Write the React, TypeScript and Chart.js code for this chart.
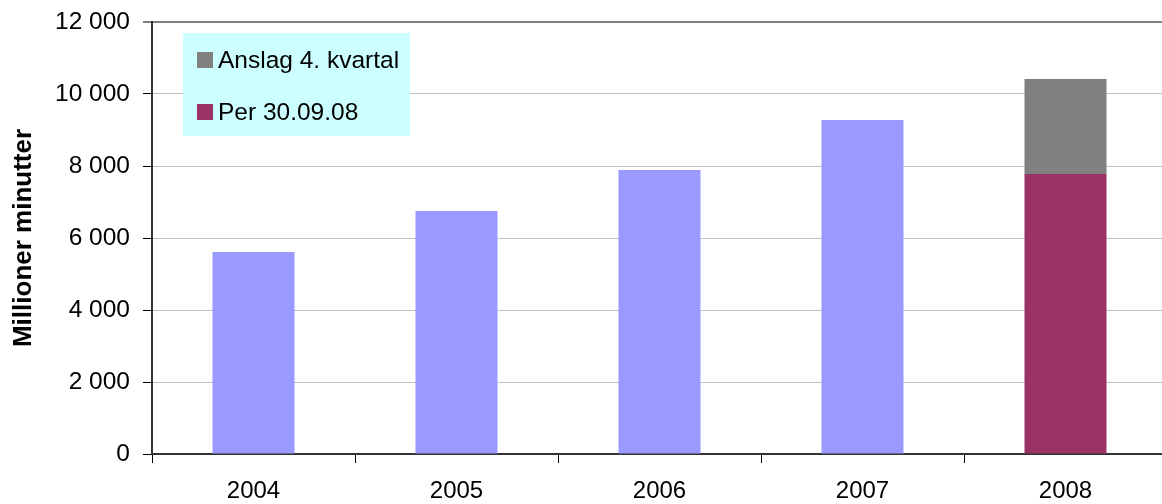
import React, { useEffect, useRef } from "react";
import { Chart, registerables } from "chart.js";

Chart.register(...registerables);

const categories = ["2004", "2005", "2006", "2007", "2008"];
const historyValues = [5610, 6750, 7890, 9280, null];
const perValues = [null, null, null, null, 7780];
const estimateValues = [null, null, null, null, 2640];
const yTicks = [0, 2000, 4000, 6000, 8000, 10000, 12000];
const yTitle = "Millioner minutter";
const legendLabels = ["Anslag 4. kvartal", "Per 30.09.08"];

const FONT = "'Liberation Sans', Arial, Helvetica, sans-serif";

const fmt = (v: number) => String(v).replace(/\B(?=(\d{3})+(?!\d))/g, " ");

const legendPlugin = {
  id: "boxLegend",
  afterDraw(chart: any) {
    const { ctx, chartArea } = chart;
    const x0 = chartArea.left + 31;
    const y0 = chartArea.top + 11;
    ctx.save();
    ctx.fillStyle = "#CCFFFF";
    ctx.fillRect(x0, y0, 227, 103);
    const items = [
      { label: legendLabels[0], color: chart.data.datasets[2].backgroundColor },
      { label: legendLabels[1], color: chart.data.datasets[1].backgroundColor },
    ];
    ctx.font = `24.5px ${FONT}`;
    ctx.textBaseline = "alphabetic";
    items.forEach((it, i) => {
      const sy = y0 + 19 + i * 52;
      ctx.fillStyle = it.color;
      ctx.fillRect(x0 + 14, sy, 16, 16);
      ctx.fillStyle = "#000";
      ctx.fillText(it.label, x0 + 35, sy + 16);
    });
    ctx.restore();
  },
};

export default function App() {
  const ref = useRef<HTMLCanvasElement>(null);
  useEffect(() => {
    if (!ref.current) return;
    const chart = new Chart(ref.current, {
      type: "bar",
      data: {
        labels: categories,
        datasets: [
          { label: "Historikk", data: historyValues as any, backgroundColor: "#9999FF" },
          { label: legendLabels[1], data: perValues as any, backgroundColor: "#993366" },
          { label: legendLabels[0], data: estimateValues as any, backgroundColor: "#808080" },
        ],
      },
      options: {
        responsive: false,
        animation: false,
        layout: { padding: { top: 22, right: 8, left: 0, bottom: 0 } },
        datasets: { bar: { categoryPercentage: 1, barPercentage: 0.404 } },
        plugins: { legend: { display: false }, tooltip: { enabled: false } },
        scales: {
          x: {
            stacked: true,
            grid: {
              display: true,
              drawOnChartArea: false,
              offset: true,
              tickLength: 9,
              color: "#000",
            },
            border: { color: "#333", width: 2 },
            ticks: { color: "#000", font: { family: FONT, size: 24 }, padding: 14 },
            afterFit: (s: any) => { s.height = 50; s.paddingLeft = 0; s.paddingRight = 0; },
          },
          y: {
            stacked: true,
            min: 0,
            max: 12000,
            afterBuildTicks: (s: any) => { s.ticks = yTicks.map((v) => ({ value: v })); },
            grid: {
              color: (c: any) => (c.tick && c.tick.value === 12000 ? "#808080" : "#C0C0C0"),
              lineWidth: (c: any) => (c.tick && c.tick.value === 12000 ? 2 : 1),
              tickColor: "#000",
              tickLength: 9,
              tickWidth: 1,
            },
            border: { color: "#333", width: 2 },
            ticks: {
              color: "#000",
              font: { family: FONT, size: 24.5 },
              padding: 13,
              callback: (v: any) => fmt(Number(v)),
            },
            title: {
              display: true,
              text: yTitle,
              color: "#000",
              font: { family: FONT, size: 26, weight: "bold" },
              padding: { top: 8, bottom: 4 },
            },
            afterFit: (s: any) => { s.width = 152; s.paddingTop = 0; s.paddingBottom = 0; },
          },
        },
      },
      plugins: [legendPlugin],
    });
    return () => chart.destroy();
  }, []);
  return (
    <div style={{ position: "absolute", left: 0, top: 0, width: 1162, height: 504, overflow: "hidden", background: "#fff" }}>
      <canvas ref={ref} width={1175} height={504} style={{ display: "block" }} />
    </div>
  );
}
